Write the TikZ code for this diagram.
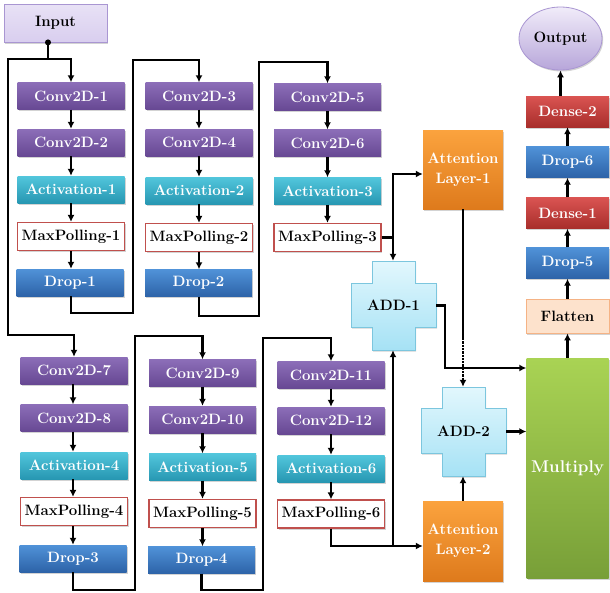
\documentclass[tikz,border=0pt]{standalone}
\usetikzlibrary{arrows.meta,shadows,calc,shapes.geometric}
\definecolor{purT}{HTML}{8C6EB8}
\definecolor{purB}{HTML}{674893}
\definecolor{teaT}{HTML}{52C6DC}
\definecolor{teaB}{HTML}{2797B2}
\definecolor{bluT}{HTML}{5092D8}
\definecolor{bluB}{HTML}{2D63A8}
\definecolor{redT}{HTML}{DA5452}
\definecolor{redB}{HTML}{A82E2B}
\definecolor{oraT}{HTML}{FBA33E}
\definecolor{oraB}{HTML}{DE7A1C}
\definecolor{grnT}{HTML}{A9D354}
\definecolor{grnB}{HTML}{789F38}
\definecolor{mpRed}{HTML}{C0504D}
\definecolor{flatF}{HTML}{FDE2CC}
\definecolor{flatD}{HTML}{F5B385}
\definecolor{inF}{HTML}{D9CEEF}
\definecolor{inD}{HTML}{A996D2}
\definecolor{addT}{HTML}{E2F7FD}
\definecolor{addB}{HTML}{A6E2F5}
\definecolor{addD}{HTML}{7CC6DE}
\definecolor{outT}{HTML}{F1ECF9}
\definecolor{outB}{HTML}{B7A6DA}
\begin{document}
\begin{tikzpicture}[x=1pt,y=-1pt,
  shd/.style={drop shadow={shadow xshift=1.2pt,shadow yshift=-1.5pt,opacity=0.35}},
  box/.style={shd,minimum width=107pt,minimum height=27pt,inner sep=0pt,
    font=\fontsize{15}{17}\selectfont\bfseries},
  conv/.style={box,top color=purT,bottom color=purB,text=white},
  actv/.style={box,top color=teaT,bottom color=teaB,text=white},
  mpool/.style={box,fill=white,draw=mpRed,line width=1.2pt,minimum height=28pt,text=black},
  drp/.style={box,top color=bluT,bottom color=bluB,text=white},
  rbox/.style={box,minimum width=83pt,minimum height=31pt},
  dns/.style={rbox,top color=redT,bottom color=redB,text=white},
  rdrp/.style={rbox,top color=bluT,bottom color=bluB,text=white},
  attn/.style={box,minimum width=80pt,minimum height=79pt,top color=oraT,bottom color=oraB,
    text=white,align=center,font=\fontsize{15}{20}\selectfont\bfseries},
  crossfill/.style={shd,top color=addT,bottom color=addB,draw=addD,line width=0.8pt},
  addtxt/.style={minimum width=85pt,minimum height=89pt,inner sep=0pt,
    font=\fontsize{15}{17}\selectfont\bfseries},
  ln/.style={line width=2.3pt,black},
  arr/.style={ln,-{Latex[length=7pt,width=7pt]}}
]
\useasboundingbox (0,0) rectangle (610,592);

% ---- Input / Output
\node[shd,minimum width=103pt,minimum height=38pt,inner sep=0pt,top color=inF!60!white,bottom color=inF,
  draw=inD,line width=0.8pt,font=\fontsize{15}{17}\selectfont\bfseries] (in) at (55.5,23) {Input};
\node[shd,ellipse,minimum width=83pt,minimum height=63pt,inner sep=0pt,top color=outT,bottom color=outB,
  draw=inD,line width=0.8pt,font=\fontsize{15}{17}\selectfont\bfseries] (out) at (560.5,38.5) {Output};

% ---- column 1
\node[conv] (c1) at (71,96) {Conv2D-1};
\node[conv] (c2) at (71,142.5) {Conv2D-2};
\node[actv] (a1) at (71,189.5) {Activation-1};
\node[mpool] (m1) at (71,236.5) {MaxPolling-1};
\node[drp] (d1) at (70,282.5) {Drop-1};
% ---- column 2
\node[conv] (c3) at (199,96) {Conv2D-3};
\node[conv] (c4) at (199,142.5) {Conv2D-4};
\node[actv] (a2) at (199,190.5) {Activation-2};
\node[mpool] (m2) at (199,237.5) {MaxPolling-2};
\node[drp] (d2) at (198.5,283) {Drop-2};
% ---- column 3
\node[conv] (c5) at (327.5,97) {Conv2D-5};
\node[conv] (c6) at (327.5,143) {Conv2D-6};
\node[actv] (a3) at (327.5,191) {Activation-3};
\node[mpool] (m3) at (327.5,237.5) {MaxPolling-3};
% ---- column 4
\node[conv] (c7) at (74,370.5) {Conv2D-7};
\node[conv] (c8) at (74,418) {Conv2D-8};
\node[actv] (a4) at (74,465.5) {Activation-4};
\node[mpool] (m4) at (74,511.5) {MaxPolling-4};
\node[drp] (d3) at (73,558.5) {Drop-3};
% ---- column 5
\node[conv] (c9) at (202.5,373) {Conv2D-9};
\node[conv] (c10) at (202.5,419.5) {Conv2D-10};
\node[actv] (a5) at (202.5,467) {Activation-5};
\node[mpool] (m5) at (202.5,513.5) {MaxPolling-5};
\node[drp] (d4) at (201.5,560) {Drop-4};
% ---- column 6
\node[conv] (c11) at (331,375) {Conv2D-11};
\node[conv] (c12) at (331,420.5) {Conv2D-12};
\node[actv] (a6) at (331,468.5) {Activation-6};
\node[mpool] (m6) at (331,514) {MaxPolling-6};

% ---- attention
\node[attn] (att1) at (463,169.5) {Attention\\Layer-1};
\node[attn,minimum height=80pt] (att2) at (463,541) {Attention\\Layer-2};

% ---- ADD crosses
\path[crossfill] (372,261) -- (415,261) -- (415,283) -- (436,283) -- (436,327) -- (415,327)
  -- (415,350) -- (372,350) -- (372,327) -- (351,327) -- (351,283) -- (372,283) -- cycle;
\node[addtxt] (add1) at (393.5,305.5) {ADD-1};
\path[crossfill] (442,387) -- (485,387) -- (485,408) -- (506,408) -- (506,453) -- (485,453)
  -- (485,476) -- (442,476) -- (442,453) -- (421,453) -- (421,408) -- (442,408) -- cycle;
\node[addtxt] (add2) at (463.5,431.5) {ADD-2};

% ---- right column
\node[shd,minimum width=82pt,minimum height=220pt,inner sep=0pt,top color=grnT,bottom color=grnB,
  text=white,font=\fontsize{17}{19}\selectfont\bfseries] (mul) at (567.5,468) {Multiply};
\node[rbox,fill=flatF,draw=flatD,line width=0.8pt,minimum height=34pt,text=black] (flat) at (567.5,316) {Flatten};
\node[rdrp] (dp5) at (567.5,263) {Drop-5};
\node[dns] (dn1) at (567.5,213) {Dense-1};
\node[rdrp] (dp6) at (567.5,162) {Drop-6};
\node[dns] (dn2) at (567.5,111.5) {Dense-2};

% ---- coordinates
\coordinate (j0) at (48,59);
\coordinate (L1) at (8,59);
\coordinate (L2) at (8,335);
\coordinate (r1) at (133,313);
\coordinate (r1t) at (133,60);
\coordinate (r2) at (259,316);
\coordinate (r2t) at (259,62);
\coordinate (r3) at (135,590);
\coordinate (r3t) at (135,336);
\coordinate (r4) at (263,590);
\coordinate (r4t) at (263,338);
\coordinate (k1) at (393,237.5);
\coordinate (k3) at (393,546);
\coordinate (k4) at (445,368);
\coordinate (k5) at (463,338);

% ---- connectors
\draw[ln] (j0 |- in.south) -- (j0);
\fill (j0 |- in.south) circle (3pt);
\draw[arr] (j0) -| (c1.north);
\draw[arr] (j0) -- (L1) -- (L2) -| (c7.north);

\draw[arr] (c1) -- (c2);
\draw[arr] (c2) -- (a1);
\draw[arr] (a1) -- (m1);
\draw[arr] (m1.south) -- (m1.south |- d1.north);
\draw[arr] (d1.south -| c1.south) |- (r1) -- (r1t) -| (c3.north);

\draw[arr] (c3) -- (c4);
\draw[arr] (c4) -- (a2);
\draw[arr] (a2) -- (m2);
\draw[arr] (m2.south) -- (m2.south |- d2.north);
\draw[arr] (d2.south -| c3.south) |- (r2) -- (r2t) -| (c5.north);

\draw[arr] (c5) -- (c6);
\draw[arr] (c6) -- (a3);
\draw[arr] (a3) -- (m3);
\draw[ln] (m3.east) -- (k1);
\draw[arr] (k1) |- ([yshift=-4.5pt]att1.west);
\draw[arr] (k1) -- (k1 |- add1.north);

\draw[arr] ([xshift=-1pt]c7.south) -- ([xshift=-1pt]c8.north);
\draw[arr] ([xshift=-1pt]c8.south) -- ([xshift=-1pt]a4.north);
\draw[arr] ([xshift=-1pt]a4.south) -- ([xshift=-1pt]m4.north);
\draw[arr] ([xshift=-1pt]m4.south) -- ([xshift=-1pt]m4.south |- d3.north);
\draw[arr] (d3.south) |- (r3) -- (r3t) -| (c9.north);

\draw[arr] (c9) -- (c10);
\draw[arr] (c10) -- (a5);
\draw[arr] (a5) -- (m5);
\draw[arr] (m5.south) -- (m5.south |- d4.north);
\draw[arr] (d4.south) |- (r4) -- (r4t) -| (c11.north);

\draw[arr] (c11) -- (c12);
\draw[arr] (c12) -- (a6);
\draw[arr] (a6) -- (m6);
\draw[arr] (m6.south) |- ([yshift=-5pt]att2.west);
\draw[arr] (k3) -- (k3 |- add1.south);

\draw[arr] (add1.east) -| (k4) -- (k4 -| mul.west);
\draw[ln] (att1.south) -- (k5);
\draw[arr,densely dotted] (k5) -- (k5 |- add2.north);
\draw[arr] (add2.east) -- (add2.east -| mul.west);
\draw[arr] (att2.north) -- (att2.north |- add2.south);

\draw[arr] (mul.north) -- (flat.south);
\draw[arr] (flat) -- (dp5);
\draw[arr] (dp5) -- (dn1);
\draw[arr] (dn1) -- (dp6);
\draw[arr] (dp6) -- (dn2);
\draw[arr] (out.south |- dn2.north) -- (out.south);
\end{tikzpicture}
\end{document}
